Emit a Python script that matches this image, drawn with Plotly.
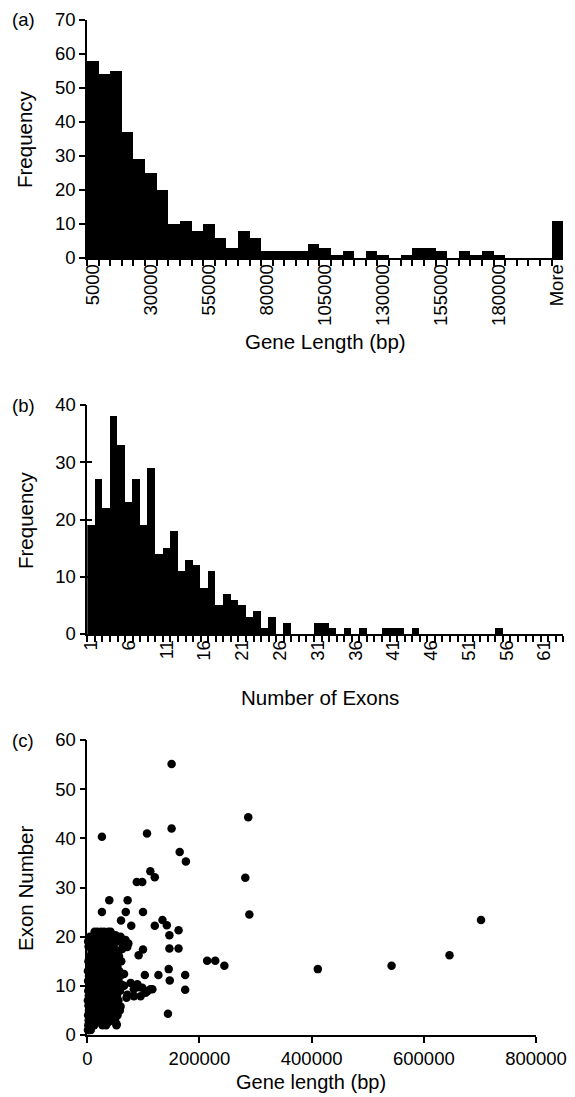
import plotly.graph_objects as go

W, H = 575, 1097
FONT = "Liberation Sans, Arial, sans-serif"
FS = 18.5
FS_TITLE = 20.5

# ---------------- (a) gene length histogram ----------------
length_bins = ["5000", "10000", "15000", "20000", "25000", "30000", "35000", "40000",
               "45000", "50000", "55000", "60000", "65000", "70000", "75000", "80000",
               "85000", "90000", "95000", "100000", "105000", "110000", "115000", "120000",
               "125000", "130000", "135000", "140000", "145000", "150000", "155000", "160000",
               "165000", "170000", "175000", "180000", "185000", "190000", "195000", "200000",
               "More"]
length_freq = [58, 54, 55, 37, 29, 25, 20, 10, 11, 8, 10, 6, 3, 8, 6, 2, 2, 2, 2, 4,
               3, 1, 2, 0, 2, 1, 0, 1, 3, 3, 2, 0, 2, 1, 2, 1, 0, 0, 0, 0, 11]
length_labels = ["5000", "30000", "55000", "80000", "105000", "130000", "155000", "180000", "More"]

# ---------------- (b) exon number histogram ----------------
exon_bins = [str(i) for i in range(1, 64)]
exon_freq = [19, 27, 22, 38, 33, 23, 27, 19, 29, 14, 15, 18, 11, 13, 12, 8, 11, 5, 7, 6,
             5, 3, 4, 1, 3, 0, 2, 0, 0, 0, 2, 2, 1, 0, 1, 0, 1, 0, 0, 1,
             1, 1, 0, 1, 0, 0, 0, 0, 0, 0, 0, 0, 0, 0, 1, 0, 0, 0, 0, 0,
             0, 0, 0]
exon_labels = ["1", "6", "11", "16", "21", "26", "31", "36", "41", "46", "51", "56", "61"]

# ---------------- (c) scatter: gene length (kb) vs exon number ----------------
gene_len_kb = [
    # sparse / outlying genes
    150.3, 286.9, 26.1, 106.5, 150.3, 164.7, 175.8, 112.4, 120.3, 88.2, 98.0, 281.7,
    288.9, 702.0, 645.8, 542.5, 411.0, 213.7, 228.1, 244.4, 26.1, 39.2, 71.9, 68.6,
    99.3, 60.1, 78.4, 120.3, 134.0, 141.8, 146.4, 162.7, 146.4, 162.7, 99.3, 91.5,
    102.6, 126.8, 145.1, 147.0, 174.5, 174.5, 143.8, 112.4,
    # right-hand extension of the cluster
    65.5, 77.3, 89.2, 98.0, 107.0, 116.0, 71.4, 83.2, 95.0, 104.0, 65.5, 63.4,
    73.2, 50.4, 59.3, 68.2, 71.2, 62.3, 60.0, 70.0, 83.0, 92.8,
    # lower protrusions
    32.7, 53.6, 52.3, 40.5, 44.5, 38.5, 26.7, 14.8, 6.0, 59.3,
    # dense cluster, exon 1..21
    1.2, 3.5, 6.1, 2.4,
    1.8, 4.4, 8.5, 12.3, 27.0, 33.5, 52.0,
    2.5, 5.2, 9.8, 14.6, 18.0, 26.5, 31.0, 38.0, 49.5,
    1.5, 6.8, 11.2, 16.4, 22.1, 29.5, 37.0, 44.0, 53.8,
    3.0, 7.5, 12.8, 18.7, 24.0, 33.2, 41.0, 46.5, 58.0,
    2.1, 6.0, 10.5, 15.3, 20.8, 27.4, 31.9, 38.6, 44.8, 51.0,
    1.0, 4.8, 9.2, 13.9, 19.4, 25.1, 30.2, 36.5, 43.1, 49.0, 55.5,
    2.7, 7.1, 11.8, 17.2, 22.6, 28.3, 34.0, 40.2, 47.5, 53.0,
    1.6, 5.5, 10.0, 14.8, 20.0, 26.2, 32.4, 38.8, 45.0, 52.5, 58.5,
    3.3, 8.0, 12.5, 18.1, 23.5, 29.8, 35.6, 41.7, 48.2, 56.0,
    1.4, 6.5, 11.0, 16.0, 21.3, 27.9, 33.0, 39.5, 46.3, 54.0,
    2.9, 7.8, 13.2, 19.0, 24.7, 30.5, 37.3, 43.5, 50.5, 58.8,
    1.1, 5.9, 10.8, 15.9, 21.8, 28.0, 34.6, 42.0, 49.8, 57.0,
    3.8, 9.0, 14.2, 19.8, 25.6, 31.4, 38.2, 45.6, 53.5,
    2.0, 7.0, 12.0, 17.5, 23.0, 29.0, 35.8, 42.8, 51.5, 60.5,
    4.0, 9.5, 14.5, 20.5, 26.8, 33.8, 40.5, 48.0, 56.5,
    7.8, 12.9, 18.5, 24.3, 30.8, 37.8, 45.2, 55.0,
    2.3, 8.8, 14.0, 19.9, 26.0, 32.2, 39.0, 47.0, 63.0,
    1.5, 6.2, 11.5, 17.0, 23.4, 29.3, 36.0, 44.5, 52.0, 62.5,
    4.5, 10.4, 16.5, 22.0, 28.5, 35.0, 42.5, 50.4, 59.3,
    13.0, 18.0, 24.5, 30.0, 37.5, 41.6,
]
exon_number = [
    55.1, 44.3, 40.3, 41.0, 42.0, 37.2, 35.3, 33.3, 32.1, 31.1, 31.1, 32.0,
    24.5, 23.4, 16.2, 14.1, 13.4, 15.1, 15.1, 14.1, 25.0, 27.4, 27.4, 25.0,
    25.0, 23.3, 22.2, 22.2, 23.4, 22.3, 20.3, 21.3, 17.6, 17.6, 17.4, 16.2,
    12.2, 12.2, 13.4, 11.1, 12.2, 9.2, 4.3, 9.3,
    10.0, 10.6, 10.3, 9.6, 8.9, 9.3, 8.2, 7.9, 7.9, 8.6, 12.4, 19.3,
    18.6, 20.3, 19.6, 19.3, 17.9, 17.5, 10.3, 7.6, 9.3, 9.7,
    2.6, 4.6, 2.2, 5.3, 4.1, 2.7, 3.1, 2.7, 1.7, 5.8,
    1, 1, 1, 1,
    2, 2, 2, 2, 2, 2, 2,
    3, 3, 3, 3, 3, 3, 3, 3, 3,
    4, 4, 4, 4, 4, 4, 4, 4, 4,
    5, 5, 5, 5, 5, 5, 5, 5, 5,
    6, 6, 6, 6, 6, 6, 6, 6, 6, 6,
    7, 7, 7, 7, 7, 7, 7, 7, 7, 7, 7,
    8, 8, 8, 8, 8, 8, 8, 8, 8, 8,
    9, 9, 9, 9, 9, 9, 9, 9, 9, 9, 9,
    10, 10, 10, 10, 10, 10, 10, 10, 10, 10,
    11, 11, 11, 11, 11, 11, 11, 11, 11, 11,
    12, 12, 12, 12, 12, 12, 12, 12, 12, 12,
    13, 13, 13, 13, 13, 13, 13, 13, 13, 13,
    14, 14, 14, 14, 14, 14, 14, 14, 14,
    15, 15, 15, 15, 15, 15, 15, 15, 15, 15,
    16, 16, 16, 16, 16, 16, 16, 16, 16,
    17, 17, 17, 17, 17, 17, 17, 17,
    18, 18, 18, 18, 18, 18, 18, 18, 18,
    19, 19, 19, 19, 19, 19, 19, 19, 19, 19,
    20, 20, 20, 20, 20, 20, 20, 20, 20,
    21, 21, 21, 21, 21, 21,
]
scatter_xticks = [0, 200000, 400000, 600000, 800000]


def fx(p):
    return p / W


def fy(p):
    return 1 - p / H


fig = go.Figure()
fig.add_trace(go.Bar(x=length_bins, y=length_freq, marker=dict(color="black", line=dict(width=0)),
                     xaxis="x", yaxis="y", showlegend=False))
fig.add_trace(go.Bar(x=exon_bins, y=exon_freq, marker=dict(color="black", line=dict(width=0)),
                     xaxis="x2", yaxis="y2", showlegend=False))
fig.add_trace(go.Scatter(x=[], y=[], xaxis="x2", yaxis="y4", showlegend=False))
fig.add_trace(go.Scatter(x=[v * 1000 for v in gene_len_kb], y=exon_number, mode="markers",
                         marker=dict(color="black", size=8.5, symbol="circle", line=dict(width=0)),
                         cliponaxis=False, xaxis="x3", yaxis="y3", showlegend=False))

tickfont = dict(family=FONT, size=FS, color="black")
common = dict(showline=True, linecolor="black", linewidth=1.5, showgrid=False, zeroline=False,
              ticks="outside", ticklen=6, tickwidth=1.5, tickcolor="black", tickfont=tickfont,
              automargin=False)

fig.update_layout(
    width=W, height=H, margin=dict(l=0, r=0, t=0, b=0),
    paper_bgcolor="white", plot_bgcolor="white", template="none", bargap=0,
    showlegend=False,
    xaxis=dict(domain=[fx(87), fx(563.3)], anchor="y", type="category",
               range=[-0.5, len(length_bins) - 0.5], tickmode="array", tickvals=length_bins,
               ticktext=[b if b in length_labels else "" for b in length_bins],
               tickson="boundaries", tickangle=-90, ticklabelstandoff=-3, **common),
    yaxis=dict(domain=[fy(258), fy(20)], anchor="x", range=[0, 70], dtick=10, **common),
    xaxis2=dict(domain=[fx(87.3), fx(563.3)], anchor="y2", type="category",
                range=[-0.5, len(exon_bins) - 0.5], tickmode="array", tickvals=exon_bins,
                ticktext=[b if b in exon_labels else "" for b in exon_bins],
                tickson="boundaries", tickangle=-90, ticklabelstandoff=-3, **common),
    yaxis2=dict(domain=[fy(634), fy(405)], anchor="x2", range=[0, 40], dtick=10, **common),
    yaxis4=dict(domain=[fy(634), fy(405)], anchor="x2", overlaying="y2", range=[0, 40], dtick=10,
                ticks="inside", ticklen=5, tickwidth=1.5, tickcolor="black",
                showticklabels=False, showline=False, showgrid=False, zeroline=False),
    xaxis3=dict(domain=[fx(87.3), fx(536)], anchor="y3", range=[0, 800000],
                tickmode="array", tickvals=scatter_xticks, tickformat="d", **common),
    yaxis3=dict(domain=[fy(1035), fy(740)], anchor="x3", range=[0, 60], dtick=10, **common),
)

annots = [
    ("(a)", 23, 20, 0, FS), ("(b)", 23, 405, 0, FS), ("(c)", 23, 740, 0, FS),
    ("Frequency", 25, 139, -90, FS_TITLE), ("Frequency", 25, 520, -90, FS_TITLE),
    ("Exon Number", 25, 888, -90, FS_TITLE),
    ("Gene Length (bp)", 325, 341, 0, FS_TITLE), ("Number of Exons", 320, 697, 0, FS_TITLE),
    ("Gene length (bp)", 311, 1082, 0, 20),
]
for text, x, y, ang, size in annots:
    fig.add_annotation(text=text, x=fx(x), y=fy(y), xref="paper", yref="paper",
                       xanchor="center", yanchor="middle", showarrow=False, textangle=ang,
                       font=dict(family=FONT, size=size, color="black"))

fig.write_html("out.html")
